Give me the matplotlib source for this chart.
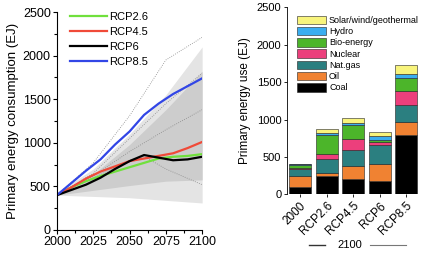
import matplotlib.pyplot as plt
import numpy as np
from matplotlib.lines import Line2D

plt.rcParams['font.family'] = ['Liberation Sans', 'DejaVu Sans']

# ---- left panel data
anios = [2000, 2010, 2020, 2030, 2040, 2050, 2060, 2070, 2080, 2090, 2100]
rcp26 = [400, 490, 560, 620, 670, 720, 770, 820, 840, 850, 870]
rcp45 = [400, 490, 590, 670, 730, 790, 820, 850, 880, 940, 1010]
rcp6 = [400, 460, 520, 600, 700, 790, 860, 830, 800, 810, 840]
rcp85 = [400, 540, 680, 810, 980, 1130, 1320, 1450, 1560, 1650, 1740]

anios_env = [2000, 2025, 2050, 2075, 2100]
env_claro_inf = [400, 385, 370, 340, 310]
env_claro_sup = [430, 700, 1100, 1550, 2100]
env_medio_inf = [400, 455, 510, 560, 575]
env_medio_sup = [415, 640, 980, 1380, 1820]

punteadas = [
    [400, 770, 1310, 1950, 2210],
    [400, 620, 900, 1150, 1380],
    [400, 650, 1050, 1450, 1800],
]
desc_anios = [2000, 2025, 2050, 2060, 2075, 2100]
desc_vals = [400, 600, 800, 845, 700, 520]

# ---- right panel data
escenarios = ['2000', 'RCP2.6', 'RCP4.5', 'RCP6', 'RCP8.5']
fuentes = ['Coal', 'Oil', 'Nat.gas', 'Nuclear', 'Bio-energy', 'Hydro', 'Solar/wind/geothermal']
valores = {
    'Coal':    [102, 245, 200, 182, 793],
    'Oil':     [147, 36, 183, 223, 169],
    'Nat.gas': [93, 187, 210, 254, 232],
    'Nuclear': [10, 72, 142, 36, 191],
    'Bio-energy': [36, 253, 192, 31, 166],
    'Hydro':   [12, 31, 30, 58, 57],
    'Solar/wind/geothermal': [10, 45, 59, 53, 120],
}
colores = {
    'Coal': '#000000',
    'Oil': '#f08232',
    'Nat.gas': '#2b7f80',
    'Nuclear': '#ec3f7c',
    'Bio-energy': '#4cb52a',
    'Hydro': '#3aaef0',
    'Solar/wind/geothermal': '#f8f47c',
}

fig = plt.figure(figsize=(4.22, 2.54), dpi=100)

# ================= left
ax = fig.add_axes([0.135, 0.0945, 0.344, 0.858])
ax.fill_between(anios_env, env_claro_inf, env_claro_sup, color='#e4e4e4', lw=0)
ax.fill_between(anios_env, env_medio_inf, env_medio_sup, color='#cdcdcd', lw=0)
for p in punteadas:
    ax.plot(anios_env, p, ls=':', color='#888888', lw=0.6)
ax.plot(desc_anios, desc_vals, ls=':', color='#888888', lw=0.6)

ax.plot(anios, rcp26, color='#70e03c', lw=1.6, label='RCP2.6')
ax.plot(anios, rcp45, color='#f04a38', lw=1.6, label='RCP4.5')
ax.plot(anios, rcp6, color='black', lw=1.6, label='RCP6')
ax.plot(anios, rcp85, color='#3246e6', lw=1.6, label='RCP8.5')

ax.set_xlim(2000, 2100)
ax.set_ylim(0, 2500)
ax.set_xticks([2000, 2025, 2050, 2075, 2100])
ax.set_xticks(np.arange(2000, 2101, 12.5), minor=True)
ax.set_yticks([0, 500, 1000, 1500, 2000, 2500])
ax.set_yticks(np.arange(0, 2501, 250), minor=True)
ax.tick_params(labelsize=9, length=3, width=0.8, pad=1.5)
ax.tick_params(which='minor', length=2, width=0.8)
ax.spines['top'].set_visible(False)
ax.spines['right'].set_visible(False)
ax.set_ylabel('Primary energy consumption (EJ)', fontsize=9.5, labelpad=3)
ax.legend(loc='upper left', bbox_to_anchor=(0.06, 1.02), frameon=False, fontsize=8,
          handlelength=3.3, handletextpad=0.2, labelspacing=0.45, borderaxespad=0)

# ================= right
ax2 = fig.add_axes([0.680, 0.235, 0.314, 0.736])
x = np.arange(len(escenarios))
base = np.zeros(len(escenarios))
for f in fuentes:
    ax2.bar(x, valores[f], 0.83, bottom=base, color=colores[f], edgecolor='#222222',
            linewidth=0.4, label=f)
    base += np.array(valores[f])

ax2.set_xlim(-0.5, 4.5)
ax2.set_ylim(0, 2500)
ax2.set_yticks([0, 500, 1000, 1500, 2000, 2500])
ax2.set_xticks(x)
ax2.set_xticklabels(escenarios, rotation=45, ha='right', rotation_mode='anchor')
ax2.tick_params(labelsize=8, length=2.5, width=0.6, pad=1.5)
ax2.tick_params(axis='x', labelsize=8.5, length=2, pad=2)
for s in ['top', 'right', 'bottom']:
    ax2.spines[s].set_visible(False)
ax2.spines['left'].set_linewidth(0.6)
ax2.set_ylabel('Primary energy use (EJ)', fontsize=8.5, labelpad=4)

h, l = ax2.get_legend_handles_labels()
ax2.legend(h[::-1], l[::-1], loc='upper left', bbox_to_anchor=(0.045, 0.975), frameon=False,
           fontsize=6.5, handlelength=3.3, handleheight=1.05, handletextpad=0.3,
           labelspacing=0.22, borderaxespad=0)

# "2100" grouping label
fig.text(350 / 422, 1 - 245 / 254, '2100', fontsize=8, ha='center', va='center')
fig.add_artist(Line2D([309 / 422, 325 / 422], [1 - 245 / 254] * 2, color='#333333', lw=1.0))
fig.add_artist(Line2D([370 / 422, 406 / 422], [1 - 245 / 254] * 2, color='#777777', lw=0.8))

fig.savefig('out.png', dpi=100)
